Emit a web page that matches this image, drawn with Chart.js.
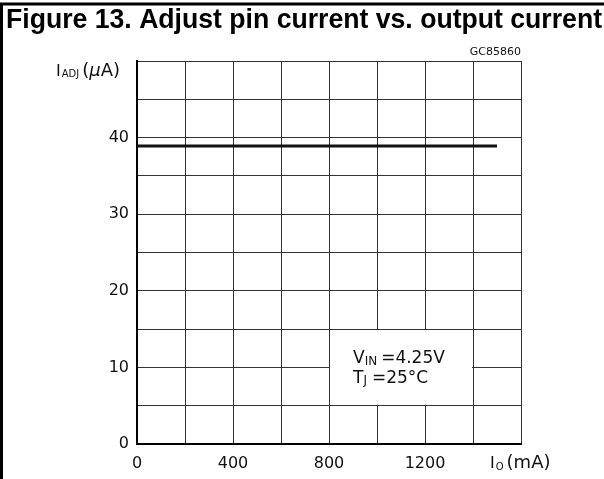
<!DOCTYPE html>
<html>
<head>
<meta charset="utf-8">
<script src="https://cdn.jsdelivr.net/npm/chart.js@4/dist/chart.umd.min.js"></script>
<style>
  html, body { margin: 0; padding: 0; background: #fff; }
  #wrap { width: 604px; height: 479px; position: relative; }
</style>
</head>
<body>
<div id="wrap"><canvas id="myChart" width="604" height="479"></canvas></div>
<script>
// data
const outputCurrent = [0, 1500];          // mA
const adjustCurrent = [38.9, 38.9];       // uA
const xTickLabels = [0, 400, 800, 1200];
const yTickLabels = [0, 10, 20, 30, 40];
const noteBox = { x0: 800, x1: 1400, y0: 5, y1: 15 };

const FONT = '"DejaVu Sans", sans-serif';

const extras = {
  id: 'extras',
  beforeDatasetsDraw(chart) {
    const { ctx, scales: { x, y } } = chart;
    // white box for the conditions note (grid lines stay as its edges)
    const l = x.getPixelForValue(noteBox.x0), r = x.getPixelForValue(noteBox.x1);
    const t = y.getPixelForValue(noteBox.y1), b = y.getPixelForValue(noteBox.y0);
    ctx.save();
    ctx.fillStyle = '#fff';
    ctx.fillRect(l + 1, t + 1, r - l - 2, b - t - 2);
    ctx.restore();
  },
  afterDraw(chart) {
    const { ctx, chartArea: a } = chart;
    ctx.save();
    // page frame
    ctx.strokeStyle = '#000';
    ctx.lineWidth = 3;
    ctx.beginPath();
    ctx.moveTo(0, 4); ctx.lineTo(604, 4);
    ctx.moveTo(1.5, 4); ctx.lineTo(1.5, 479);
    ctx.stroke();

    // title, fitted to the frame width
    const title = 'Figure 13. Adjust pin current vs. output current';
    ctx.fillStyle = '#000';
    ctx.font = 'bold 27px "Liberation Sans", Arial, sans-serif';
    ctx.textBaseline = 'alphabetic';
    ctx.textAlign = 'left';
    const tw = ctx.measureText(title).width;
    const sx = Math.min(1, 596 / tw);
    ctx.save();
    ctx.translate(6, 28);
    ctx.scale(sx, 1);
    ctx.fillText(title, 0, 0);
    ctx.restore();

    ctx.fillStyle = '#111';
    // drawing code
    ctx.font = '11px ' + FONT;
    ctx.textAlign = 'right';
    ctx.fillText('GC85860', a.right, 55);

    // y axis unit: I_ADJ (μA)
    ctx.textAlign = 'left';
    let px = 56, base = 76;
    ctx.font = '16px ' + FONT;
    ctx.fillText('I', px, base); px += ctx.measureText('I').width + 1;
    ctx.font = '10px ' + FONT;
    ctx.fillText('ADJ', px, base + 1); px += ctx.measureText('ADJ').width + 3;
    ctx.font = '18px ' + FONT;
    ctx.fillText('(', px, base); px += ctx.measureText('(').width;
    ctx.font = 'italic 18px ' + FONT;
    ctx.fillText('\u03bc', px, base); px += ctx.measureText('\u03bc').width;
    ctx.font = '18px ' + FONT;
    ctx.fillText('A)', px, base);

    // x axis unit: I_O (mA)
    px = 490; base = 468;
    ctx.font = '16px ' + FONT;
    ctx.fillText('I', px, base); px += ctx.measureText('I').width + 1;
    ctx.font = '10px ' + FONT;
    ctx.fillText('O', px, base + 2); px += ctx.measureText('O').width + 3;
    ctx.font = '18px ' + FONT;
    ctx.fillText('(mA)', px, base);

    // conditions note
    px = 353; base = 363;
    ctx.font = '17px ' + FONT;
    ctx.fillText('V', px, base); px += ctx.measureText('V').width;
    ctx.font = '12px ' + FONT;
    ctx.fillText('IN', px, base + 2); px += ctx.measureText('IN').width + 4;
    ctx.font = '17px ' + FONT;
    ctx.fillText('=4.25V', px, base);

    px = 353; base = 383;
    ctx.fillText('T', px, base); px += ctx.measureText('T').width;
    ctx.font = '12px ' + FONT;
    ctx.fillText('J', px, base + 1); px += ctx.measureText('J').width + 5;
    ctx.font = '17px ' + FONT;
    ctx.fillText('=25\u00b0C', px, base);
    ctx.restore();
  }
};

new Chart(document.getElementById('myChart').getContext('2d'), {
  type: 'scatter',
  data: {
    datasets: [{
      label: 'IADJ',
      data: outputCurrent.map((v, i) => ({ x: v, y: adjustCurrent[i] })),
      showLine: true,
      borderColor: '#111',
      borderWidth: 3,
      pointRadius: 0,
      fill: false
    }]
  },
  options: {
    responsive: false,
    animation: false,
    layout: { padding: { left: 0, top: 61, right: 83, bottom: 0 } },
    plugins: { legend: { display: false }, tooltip: { enabled: false }, title: { display: false } },
    scales: {
      x: {
        type: 'linear', min: 0, max: 1600,
        afterFit: s => { s.height = 35; },
        ticks: {
          stepSize: 200, autoSkip: false, maxRotation: 0,
          color: '#111', font: { family: FONT, size: 16 }, padding: 10,
          callback: v => xTickLabels.includes(v) ? String(v) : ''
        },
        grid: { color: '#333', lineWidth: 1, drawTicks: false },
        border: { color: '#000', width: 2 }
      },
      y: {
        type: 'linear', min: 0, max: 50,
        afterFit: s => { s.width = 137; },
        ticks: {
          stepSize: 5, autoSkip: false,
          color: '#111', font: { family: FONT, size: 16 }, padding: 8,
          callback: v => yTickLabels.includes(v) ? String(v) : ''
        },
        grid: { color: '#333', lineWidth: 1, drawTicks: false },
        border: { color: '#000', width: 2 }
      }
    }
  },
  plugins: [extras]
});
</script>
</body>
</html>
